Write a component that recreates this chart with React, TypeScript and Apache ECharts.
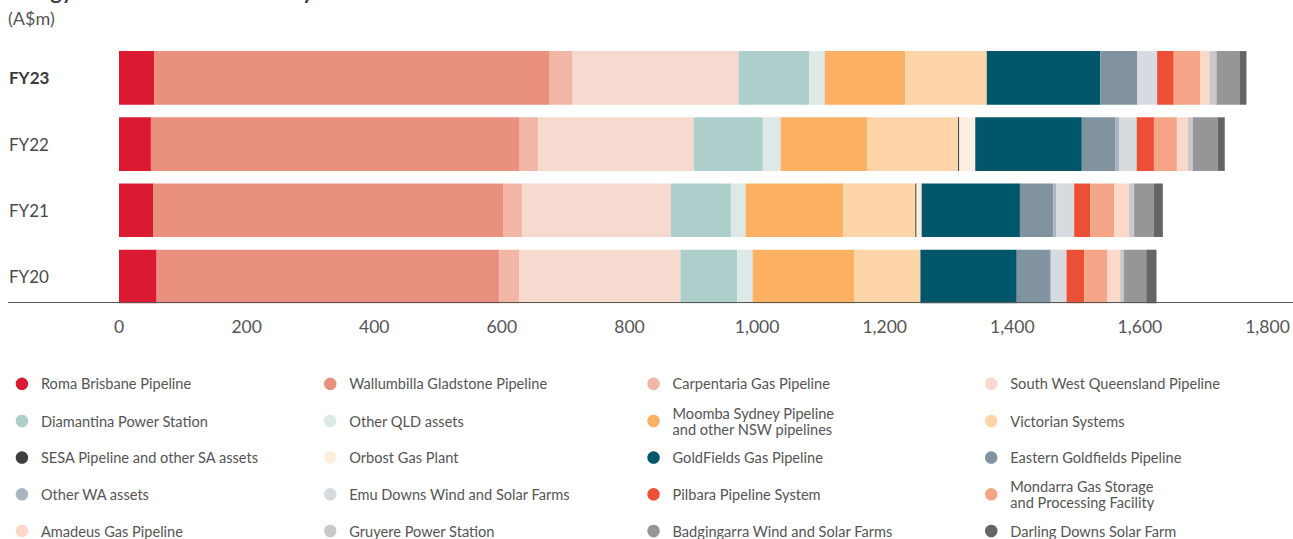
import React, { useEffect, useRef } from "react";
import * as echarts from "echarts";

const categories = ["FY23", "FY22", "FY21", "FY20"];
const xTicks = { min: 0, max: 1800, interval: 200 };

const seriesNames = [
  "Roma Brisbane Pipeline",
  "Wallumbilla Gladstone Pipeline",
  "Carpentaria Gas Pipeline",
  "South West Queensland Pipeline",
  "Diamantina Power Station",
  "Other QLD assets",
  "Moomba Sydney Pipeline and other NSW pipelines",
  "Victorian Systems",
  "SESA Pipeline and other SA assets",
  "Orbost Gas Plant",
  "GoldFields Gas Pipeline",
  "Eastern Goldfields Pipeline",
  "Other WA assets",
  "Emu Downs Wind and Solar Farms",
  "Pilbara Pipeline System",
  "Mondarra Gas Storage and Processing Facility",
  "Amadeus Gas Pipeline",
  "Gruyere Power Station",
  "Badgingarra Wind and Solar Farms",
  "Darling Downs Solar Farm",
];

const seriesColors = [
  "#DA1A32", "#E9907E", "#F2B6A6", "#F7DACF",
  "#ADCECB", "#DDE9E6", "#FBB063", "#FDD5A9",
  "#3F3F41", "#FDEEDD", "#02566A", "#8193A1",
  "#AAB5C0", "#D7DBE0", "#EB5037", "#F4A587",
  "#FBD8C8", "#C9C9CB", "#969699", "#646567",
];

// values in order FY23, FY22, FY21, FY20 (A$m)
const roma = [55, 50, 54, 59];
const wallumbilla = [620, 578, 548, 537];
const carpentaria = [36, 29, 30, 31];
const southWestQld = [260, 244, 233, 253];
const diamantina = [111, 108, 94, 89];
const otherQld = [24, 28, 23, 24];
const moomba = [126, 136, 153, 159];
const victorian = [128, 142, 113, 104];
const sesa = [0, 2, 2, 0];
const orbost = [0, 25, 8, 0];
const goldfields = [178, 167, 154, 151];
const easternGoldfields = [58, 53, 52, 52];
const otherWa = [0, 6, 5, 2];
const emuDowns = [31, 27, 28, 24];
const pilbara = [26, 27, 25, 28];
const mondarra = [42, 36, 38, 36];
const amadeus = [14, 17, 23, 20];
const gruyere = [11, 8, 8, 6];
const badgingarra = [36, 39, 31, 35];
const darlingDowns = [11, 11, 14, 16];

const seriesValues = [
  roma, wallumbilla, carpentaria, southWestQld,
  diamantina, otherQld, moomba, victorian,
  sesa, orbost, goldfields, easternGoldfields,
  otherWa, emuDowns, pilbara, mondarra,
  amadeus, gruyere, badgingarra, darlingDowns,
];

// legend grid layout (4 columns x 5 rows)
const legendColLeft = [15.7, 324, 647.3, 985];
const legendRowCenter = [383.8, 421, 457.6, 494.3, 531];

const FONT = "Lato, 'Open Sans', sans-serif";

function legendLabel(name: string): string {
  return name
    .replace(" and other NSW", "\nand other NSW")
    .replace(" and Processing", "\nand Processing");
}

export default function App() {
  const ref = useRef<HTMLDivElement>(null);

  useEffect(() => {
    if (!ref.current) return;
    const chart = echarts.init(ref.current, undefined, { renderer: "svg" });

    const legends = seriesNames.map((name, i) => {
      const multi = legendLabel(name).includes("\n");
      const row = Math.floor(i / 4);
      const col = i % 4;
      return {
        show: true,
        data: [name],
        left: legendColLeft[col],
        top: legendRowCenter[row] - (multi ? 16 : 8),
        padding: 0,
        icon: "circle",
        itemWidth: 28,
        itemHeight: 12.5,
        selectedMode: false,
        formatter: legendLabel,
        textStyle: {
          fontFamily: FONT,
          fontSize: 14.6,
          lineHeight: 16,
          color: "#555555",
        },
      };
    });

    const series = seriesNames.map((name, i) => ({
      name,
      type: "bar",
      stack: "total",
      data: seriesValues[i],
      barCategoryGap: "19%",
      itemStyle: { color: seriesColors[i] },
      emphasis: { disabled: true },
    }));

    chart.setOption({
      animation: false,
      backgroundColor: "#ffffff",
      grid: { left: 119, right: 25.5, top: 44.8, bottom: 229.4, containLabel: false },
      xAxis: {
        type: "value",
        min: xTicks.min,
        max: xTicks.max,
        interval: xTicks.interval,
        axisLine: { show: false },
        axisTick: { show: false },
        splitLine: { show: false },
        axisLabel: {
          fontFamily: FONT,
          fontSize: 17.5,
          color: "#555555",
          margin: 8,
          formatter: (v: number) => v.toLocaleString("en-US"),
        },
      },
      yAxis: {
        type: "category",
        data: categories,
        inverse: true,
        axisLine: { show: false },
        axisTick: { show: false },
        axisLabel: {
          align: "left",
          margin: 110,
          formatter: (v: string) => (v === "FY23" ? `{b|${v}}` : `{n|${v}}`),
          rich: {
            b: { fontFamily: FONT, fontSize: 17, fontWeight: "bold", color: "#3a3a3a" },
            n: { fontFamily: FONT, fontSize: 17, color: "#4a4a4a" },
          },
        },
      },
      legend: legends,
      series,
      graphic: [
        {
          type: "text",
          left: 8,
          top: -20,
          silent: true,
          style: {
            text: "Energy Infrastructure EBITDA by asset",
            fontFamily: FONT,
            fontSize: 21,
            fontWeight: "bold",
            fill: "#3a3a3a",
          },
        },
        {
          type: "text",
          left: 8,
          top: 9,
          silent: true,
          style: {
            text: "(A$m)",
            fontFamily: FONT,
            fontSize: 18,
            fill: "#555555",
          },
        },
        {
          type: "line",
          silent: true,
          z: 100,
          shape: { x1: 8, y1: 302.5, x2: 1293, y2: 302.5 },
          style: { stroke: "#555555", lineWidth: 1 },
        },
      ],
    });

    return () => chart.dispose();
  }, []);

  return (
    <div
      ref={ref}
      style={{ position: "fixed", left: 0, top: 0, width: "1293px", height: "539px", background: "#fff" }}
    />
  );
}
